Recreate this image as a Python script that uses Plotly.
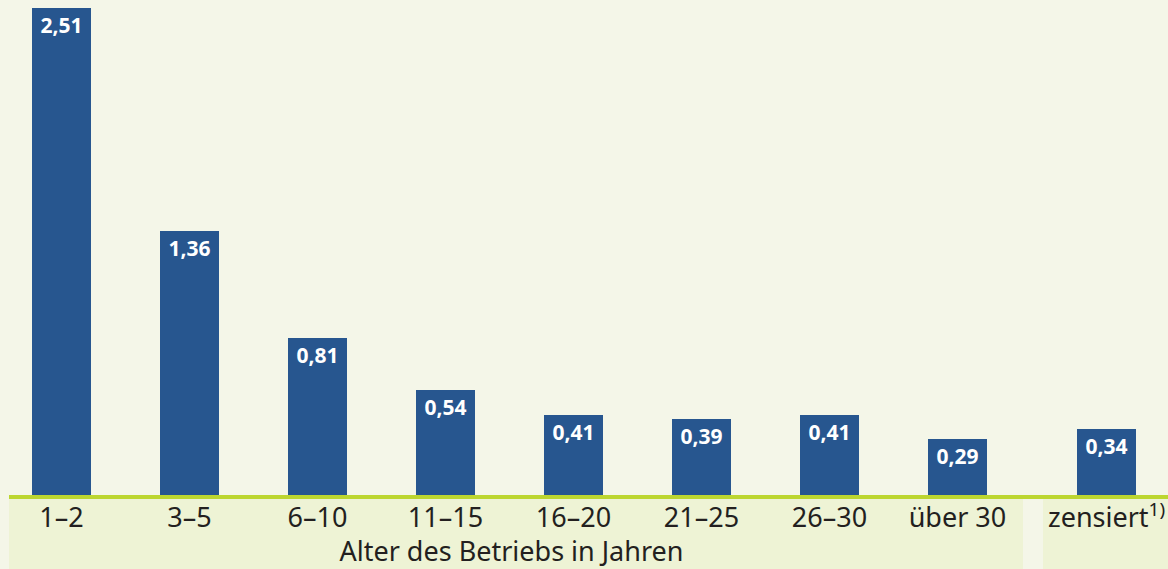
import plotly.graph_objects as go

categories = ["1–2", "3–5", "6–10", "11–15", "16–20", "21–25", "26–30", "über 30"]
values = [2.51, 1.36, 0.81, 0.54, 0.41, 0.39, 0.41, 0.29]
censored_label = ["zensiert<sup>1)</sup>"]
censored_value = [0.34]
axis_title = "Alter des Betriebs in Jahren"

W, H = 1168, 569
BG = "#f4f6e8"
PANEL = "#eef3d5"
BAR = "#27568f"
GREEN = "#bcd630"
TXT = "#231f20"
FONT = "Noto Sans"

fig = go.Figure()
bar_kw = dict(marker=dict(color=BAR, line=dict(width=0)), width=0.46,
              texttemplate="%{y:.2f}", textposition="inside", insidetextanchor="end",
              textangle=0, textfont=dict(family=FONT, size=21, color="white", weight="bold"),
              showlegend=False, hoverinfo="skip")
fig.add_trace(go.Bar(x=categories, y=values, xaxis="x", yaxis="y", **bar_kw))
fig.add_trace(go.Bar(x=censored_label, y=censored_value, xaxis="x2", yaxis="y2", **bar_kw))

plot_bottom = 495
ppu = 487 / 2.51
ymax = plot_bottom / ppu

tickfont = dict(family=FONT, size=27, color=TXT)
fig.update_layout(
    width=W, height=H,
    margin=dict(l=0, r=0, t=0, b=H - plot_bottom),
    paper_bgcolor=BG, plot_bgcolor=BG,
    separators=",.",
    bargap=0,
    xaxis=dict(domain=[0, 1023 / W], range=[-0.48, 7.512], type="category",
               showgrid=False, zeroline=False, showline=False, ticks="",
               tickfont=tickfont, fixedrange=True, ticklabelstandoff=4,
               title=dict(text=axis_title, font=tickfont, standoff=0)),
    yaxis=dict(range=[0, ymax], visible=False, fixedrange=True),
    xaxis2=dict(domain=[1043 / W, 1], range=[-0.496, 0.48], type="category",
                showgrid=False, zeroline=False, showline=False, ticks="",
                tickfont=tickfont, fixedrange=True, ticklabelstandoff=4),
    yaxis2=dict(range=[0, ymax], visible=False, anchor="x2", matches="y"),
)

ph = plot_bottom
fig.add_shape(type="rect", xref="paper", yref="paper", x0=9 / W, x1=1023 / W,
              y0=-(H - plot_bottom) / ph, y1=-4 / ph, fillcolor=PANEL, line_width=0, layer="below")
fig.add_shape(type="rect", xref="paper", yref="paper", x0=1043 / W, x1=1,
              y0=-(H - plot_bottom) / ph, y1=-4 / ph, fillcolor=PANEL, line_width=0, layer="below")
fig.add_shape(type="line", xref="paper", yref="paper", x0=9 / W, x1=1,
              y0=-2 / ph, y1=-2 / ph, line=dict(color=GREEN, width=4))

fig.write_html("out.html", config={"displayModeBar": False},
               post_script="document.body.style.margin='0';document.body.style.overflow='hidden';")
